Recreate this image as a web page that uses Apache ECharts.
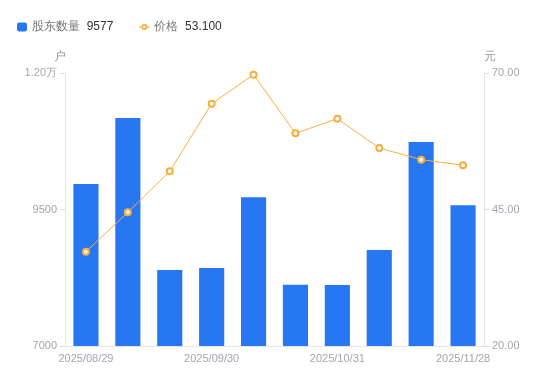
<!DOCTYPE html>
<html>
<head>
<meta charset="utf-8">
<script src="https://cdn.jsdelivr.net/npm/echarts@6/dist/echarts.min.js"></script>
<style>
  html, body { margin: 0; padding: 0; background: #fff; }
  #chart { width: 550px; height: 381px; }
</style>
</head>
<body>
<div id="chart"></div>
<script>
const dates = ['2025/08/29', '2025/09/10', '2025/09/19', '2025/09/30', '2025/10/10',
    '2025/10/20', '2025/10/31', '2025/11/10', '2025/11/20', '2025/11/28'];
const holders = [9967, 11176, 8392, 8429, 9723, 8123, 8117, 8758, 10736, 9577];
const prices = [37.27, 44.49, 52.0, 64.38, 69.7, 58.95, 61.64, 56.26, 54.13, 53.1];

const chart = echarts.init(document.getElementById('chart'));

const axisGray = '#a3a6ae';
const lineGray = '#e4e6ea';
// line + ring legend icon
const lineIcon = 'path://M0,4.2h2.4v1.6h-2.4z M7.6,4.2h2.4v1.6h-2.4z ' +
    'M2,5a3,3 0 1,0 6,0a3,3 0 1,0 -6,0z ' +
    'M3.8,5a1.2,1.2 0 1,1 2.4,0a1.2,1.2 0 1,1 -2.4,0z';

const option = {
    animation: false,
    legend: {
        left: 12,
        top: 16,
        itemWidth: 10,
        itemHeight: 9,
        itemGap: 26,
        data: [
            { name: '股东数量', icon: 'roundRect' },
            { name: '价格', icon: lineIcon, itemStyle: { color: '#f7ae3c', borderWidth: 0 } }
        ],
        formatter: name => {
            const v = name === '股东数量'
                ? holders[holders.length - 1]
                : prices[prices.length - 1].toFixed(3);
            return name + '  {v|' + v + '}';
        },
        textStyle: {
            fontSize: 12,
            color: '#777',
            rich: { v: { fontSize: 12, color: '#333' } }
        }
    },
    grid: { left: 65, right: 66, top: 73, bottom: 35 },
    xAxis: {
        type: 'category',
        data: dates,
        axisLine: { lineStyle: { color: lineGray } },
        axisTick: { show: false },
        axisLabel: { interval: 2, color: axisGray, fontSize: 11, margin: 7 }
    },
    yAxis: [
        {
            type: 'value',
            name: '户',
            min: 7000,
            max: 12000,
            interval: 2500,
            nameGap: 10,
            nameTextStyle: { color: '#999', fontSize: 12, padding: [0, 10, 0, 0] },
            splitLine: { show: false },
            axisLine: { show: true, lineStyle: { color: lineGray } },
            axisTick: { show: true, length: 5, lineStyle: { color: '#dcdee2' } },
            axisLabel: {
                color: axisGray,
                fontSize: 11,
                margin: 8,
                formatter: v => v >= 10000 ? (v / 10000).toFixed(2) + '万' : String(v)
            }
        },
        {
            type: 'value',
            name: '元',
            min: 20,
            max: 70,
            interval: 25,
            nameGap: 10,
            nameTextStyle: { color: '#999', fontSize: 12, padding: [0, 0, 0, 12] },
            splitLine: { show: false },
            axisLine: { show: true, lineStyle: { color: lineGray } },
            axisTick: { show: true, length: 5, lineStyle: { color: '#dcdee2' } },
            axisLabel: {
                color: axisGray,
                fontSize: 11,
                margin: 8,
                formatter: v => v.toFixed(2)
            }
        }
    ],
    series: [
        {
            name: '股东数量',
            type: 'bar',
            barWidth: '60%',
            itemStyle: { color: '#2777f2' },
            data: holders
        },
        {
            name: '价格',
            type: 'line',
            yAxisIndex: 1,
            symbol: 'circle',
            symbolSize: 6,
            itemStyle: { color: '#fff', borderColor: '#f7ae3c', borderWidth: 2 },
            lineStyle: { color: '#f7ae3c', width: 1 },
            data: prices
        }
    ]
};

chart.setOption(option);
</script>
</body>
</html>
